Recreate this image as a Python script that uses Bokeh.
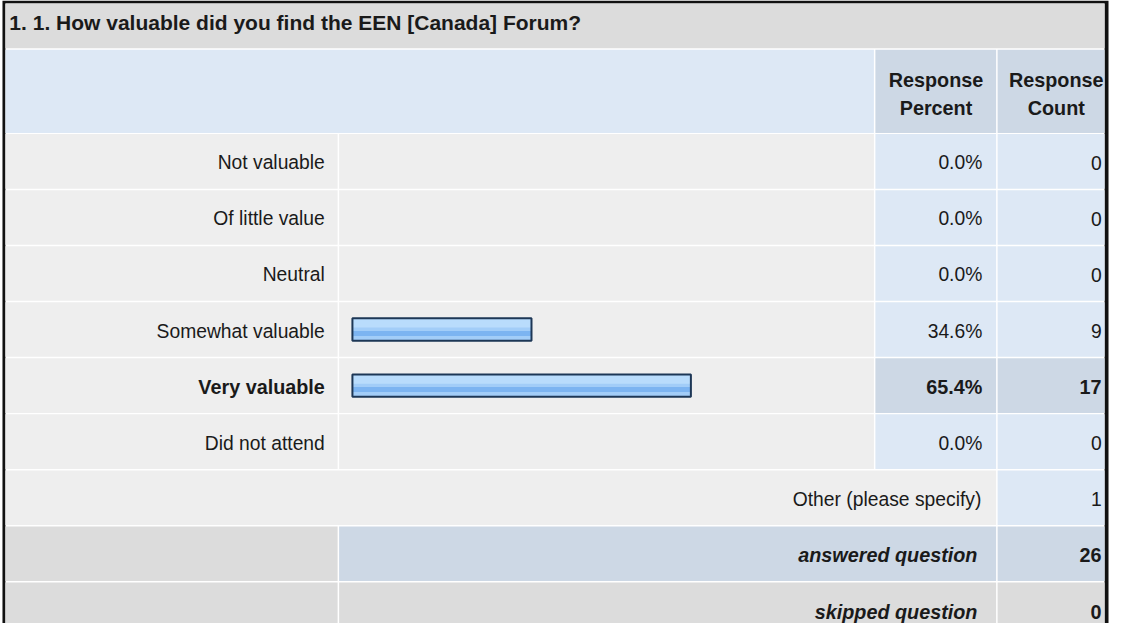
from bokeh.plotting import figure
from bokeh.models import Range1d, ColumnDataSource
from bokeh.core.properties import value
from bokeh.embed import file_html
from bokeh.resources import INLINE

# ---------------- data ----------------
title = "1. 1. How valuable did you find the EEN [Canada] Forum?"
header_percent = ["Response", "Percent"]
header_count = ["Response", "Count"]
categories = ["Not valuable", "Of little value", "Neutral",
              "Somewhat valuable", "Very valuable", "Did not attend"]
percents = [0.0, 0.0, 0.0, 34.6, 65.4, 0.0]
counts = [0, 0, 0, 9, 17, 0]
other_label = "Other (please specify)"
other_count = 1
answered_label = "answered question"
answered_count = 26
skipped_label = "skipped question"
skipped_count = 0

# ---------------- layout (reference pixel space) ----------------
W, H = 1125, 639
FONT = value("Liberation Sans")
FS = "19.3px"
FSB = "19.8px"
TXT = "#1a1a1a"
GRAY = "#dcdcdc"
LIGHT = "#eeeeee"
BLUE = "#dde8f5"
BLUE2 = "#cdd8e5"

p = figure(width=1109, height=623, x_range=Range1d(0, W), y_range=Range1d(H, 0),
           x_axis_type=None, y_axis_type=None, toolbar_location=None,
           output_backend="svg", min_border=0, outline_line_color=None,
           background_fill_color="white", border_fill_color="white")
p.grid.visible = False

# percent scale for bars: 0% at x=357, 100% at x=882
px_per_pct = 5.25
bar_left = 357
p.extra_x_ranges = {"pct": Range1d(-bar_left / px_per_pct, (W - bar_left) / px_per_pct)}

# columns
c_lab = (5, 342)
c_bar = (343.5, 886)
c_pct = (887.5, 1010)
c_cnt = (1011.5, 1120)

def row_top(i):
    return 137 + 57.5 * i

def row_mid(i):
    return row_top(i) + 28.5

cells = dict(left=[], right=[], top=[], bottom=[], color=[])

def cell(l, r, t, b, c):
    cells["left"].append(l); cells["right"].append(r)
    cells["top"].append(t); cells["bottom"].append(b); cells["color"].append(c)

# borders
p.quad(left=2, right=1124, top=0, bottom=H, fill_color="#111111", line_color=None)
p.quad(left=5, right=1120, top=3, bottom=H, fill_color="white", line_color=None)

# title + header
cell(5, 1120, 3, 49, GRAY)
cell(5, 886, 50.5, 136, BLUE)
cell(c_pct[0], c_pct[1], 50.5, 136, BLUE2)
cell(c_cnt[0], c_cnt[1], 50.5, 136, BLUE2)

hi = counts.index(max(counts))
for i, cat in enumerate(categories):
    t, b = row_top(i), row_top(i) + 56
    cell(*c_lab, t, b, LIGHT)
    cell(*c_bar, t, b, LIGHT)
    col = BLUE2 if i == hi else BLUE
    cell(*c_pct, t, b, col)
    cell(*c_cnt, t, b, col)

n = len(categories)
# other row
t, b = row_top(n), row_top(n) + 56
cell(5, c_pct[1], t, b, LIGHT)
cell(*c_cnt, t, b, BLUE)
# answered row
t, b = row_top(n + 1), row_top(n + 1) + 56
cell(*c_lab, t, b, GRAY)
cell(c_bar[0], c_pct[1], t, b, BLUE2)
cell(*c_cnt, t, b, BLUE2)
# skipped row
t, b = row_top(n + 2), H
cell(*c_lab, t, b, GRAY)
cell(c_bar[0], c_pct[1], t, b, GRAY)
cell(*c_cnt, t, b, GRAY)

p.quad(left="left", right="right", top="top", bottom="bottom", fill_color="color",
       line_color=None, source=ColumnDataSource(cells))

# bars
bi = [i for i, v in enumerate(percents) if v > 0]
bsrc = ColumnDataSource(dict(
    y=[row_mid(i) - 0.5 for i in bi],
    y_top=[row_mid(i) - 7 for i in bi],
    y_band=[row_mid(i) + 3.5 for i in bi],
    right=[percents[i] for i in bi]))
p.hbar(y="y", left=0, right="right", height=23, source=bsrc, x_range_name="pct",
       fill_color="#a2cdf8", line_color=None)
p.hbar(y="y_top", left=0, right="right", height=9, source=bsrc, x_range_name="pct",
       fill_color="#b9dcfc", line_color=None)
p.hbar(y="y_band", left=0, right="right", height=5, source=bsrc, x_range_name="pct",
       fill_color="#7cb4f1", line_color=None)
p.hbar(y="y", left=0, right="right", height=23, source=bsrc, x_range_name="pct",
       fill_color=None, line_color="#1d3756", line_width=2)

# texts
def txt(x, y, s, align="right", style="normal", size=None):
    if size is None:
        size = FS if style == "normal" else FSB
    p.text(x=[x], y=[y], text=[s], text_align=align, text_baseline="middle",
           text_font=FONT, text_font_size=size, text_font_style=style, text_color=TXT)

txt(9, 23, title, align="left", style="bold", size="21px")
txt(949, 82, header_percent[0], align="center", style="bold")
txt(949, 110, header_percent[1], align="center", style="bold")
txt(1071, 82, header_count[0], align="center", style="bold")
txt(1071, 110, header_count[1], align="center", style="bold")

for i, cat in enumerate(categories):
    st = "bold" if i == hi else "normal"
    y = row_mid(i) + 1
    txt(329, y, cat, style=st)
    txt(996, y, f"{percents[i]:.1f}%", style=st)
    txt(1117, y, str(counts[i]), style=st)

txt(995, row_mid(n) + 1, other_label)
txt(1117, row_mid(n) + 1, str(other_count))
txt(991, row_mid(n + 1) + 1, answered_label, style="bold italic")
txt(1117, row_mid(n + 1) + 1, str(answered_count), style="bold")
txt(991, row_mid(n + 2) + 2, skipped_label, style="bold italic")
txt(1117, row_mid(n + 2) + 2, str(skipped_count), style="bold")

open("out.html", "w").write(file_html(p, INLINE))
